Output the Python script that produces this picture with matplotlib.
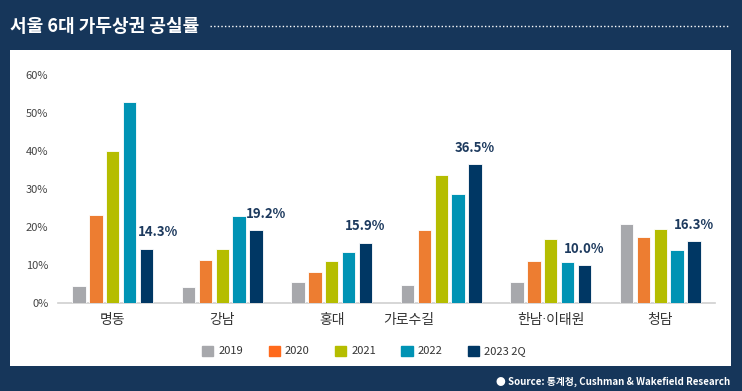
import matplotlib
matplotlib.use('Agg')
import matplotlib.pyplot as plt
import matplotlib.transforms as mtransforms
from matplotlib.patches import Rectangle
import numpy as np

plt.rcParams['font.family'] = ['Noto Sans CJK KR', 'DejaVu Sans']

# data
areas = ['명동', '강남', '홍대', '가로수길', '한남·이태원', '청담']
years = ['2019', '2020', '2021', '2022', '2023 2Q']
v2019 = [4.6, 4.3, 5.6, 4.7, 5.5, 20.9]
v2020 = [23.3, 11.5, 8.3, 19.3, 11.1, 17.4]
v2021 = [40.1, 14.2, 11.1, 33.8, 16.8, 19.4]
v2022 = [52.8, 23.0, 13.5, 28.8, 10.9, 14.1]
v2023 = [14.3, 19.2, 15.9, 36.5, 10.0, 16.3]
colors = ['#a7a8ac', '#ed7d31', '#b5bd00', '#0093b4', '#003764']
legend_colors = ['#a7a8ac', '#ff6a1c', '#b5bd00', '#0093b4', '#003764']

navy = '#16365a'
fig = plt.figure(figsize=(7.42, 3.91), dpi=100)
fig.patch.set_facecolor(navy)

W, H = 742, 391
# white panel
fig.patches.append(Rectangle((10 / W, 1 - 366 / H), 721 / W, 316 / H,
                             transform=fig.transFigure, facecolor='white',
                             edgecolor='none', zorder=-5))

# title + dotted rule
fig.text(10 / W, 1 - 26 / H, '서울 6대 가두상권 공실률', color='white',
         fontsize=13, fontweight='bold', va='center', ha='left')
fig.add_artist(plt.Line2D([210 / W, 729 / W], [1 - 26 / H, 1 - 26 / H],
                          transform=fig.transFigure, color='white',
                          linestyle=(0, (1, 1.6)), linewidth=1.0))

ax = fig.add_axes([58 / W, 1 - 303.3 / H, 657 / W, (303.3 - 75) / H])
ax.set_facecolor('none')
ax.set_zorder(2)

x = np.arange(len(areas))
series = [v2019, v2020, v2021, v2022, v2023]
pitch = 0.154
width = 0.122
for i, vals in enumerate(series):
    ax.bar(x + (i - 2) * pitch, vals, width=width, color=colors[i],
           edgecolor='white', linewidth=0.6, zorder=3)

# value labels on 2023 2Q bars
label_dx = [12, 10, 0, 0, 0, 0]
for k, v in enumerate(v2023):
    ax.annotate(f'{v:.1f}%', (x[k] + 2 * pitch, v),
                xytext=(label_dx[k] * 0.72, 12), textcoords='offset points',
                ha='center', va='center', fontsize=9.5, fontweight='bold',
                color='#1d3a5e')

ax.set_xlim(-0.5, 5.5)
ax.set_ylim(0, 60)
ax.set_yticks(np.arange(0, 61, 10))
ax.set_yticklabels([f'{t}%' for t in range(0, 61, 10)])
ax.set_xticks(x)
ax.set_xticklabels(areas)
ax.tick_params(axis='y', length=0, pad=7, labelsize=8, labelcolor='#444444')
ax.tick_params(axis='x', length=0, pad=7, labelsize=10, labelcolor='#333333')

# 가로수길 label sits left of its group in the original
lbl = ax.get_xticklabels()[3]
lbl.set_transform(lbl.get_transform() +
                  mtransforms.ScaledTranslation(-0.325, 0, fig.dpi_scale_trans))
# narrow middle dot
ax.get_xticklabels()[4].set_fontfamily(['Roboto', 'Noto Sans CJK KR'])

for s in ['top', 'right', 'left']:
    ax.spines[s].set_visible(False)
ax.spines['bottom'].set_color('#cfcfcf')
ax.spines['bottom'].set_linewidth(1.2)

# legend
handles = [Rectangle((0, 0), 1, 1, color=c) for c in legend_colors]
fig.legend(handles, years, loc='center', bbox_to_anchor=(364 / W, 1 - 351 / H),
           ncol=5, frameon=False, fontsize=8, handlelength=1.0,
           handleheight=1.0, handletextpad=0.45, columnspacing=2.3,
           labelcolor='#333333')

# source
fig.text(730 / W, 1 - 382 / H, '● Source: 통계청, Cushman & Wakefield Research',
         color='white', fontsize=7, fontweight='bold', ha='right', va='center')

fig.savefig('out.png', dpi=100, facecolor=navy)
